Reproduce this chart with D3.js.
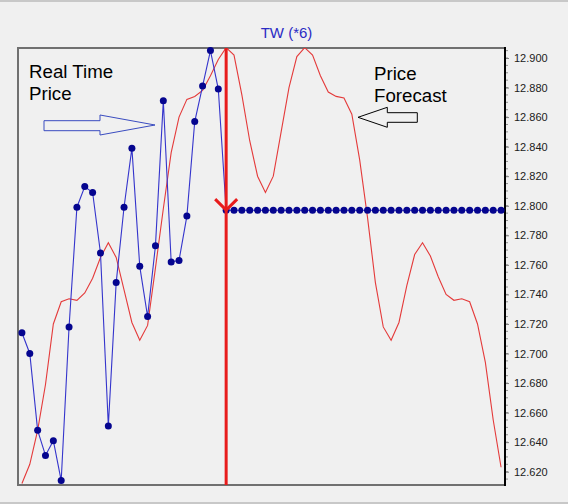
<!DOCTYPE html>
<html>
<head>
<meta charset="utf-8">
<script src="https://cdn.jsdelivr.net/npm/d3@7"></script>
<style>
	html, body { margin: 0; padding: 0; background: #f0f0f0; }
	svg { display: block; font-family: Arial, "Liberation Sans", sans-serif; }
</style>
</head>
<body>
<div id="chart"></div>
<script>
// real time price (blue dots), up to the "now" bar
var realTime = [12.714, 12.700, 12.648, 12.631, 12.641, 12.614, 12.718, 12.799, 12.813, 12.809,
	12.768, 12.651, 12.748, 12.799, 12.839, 12.759, 12.725, 12.773, 12.871, 12.762,
	12.763, 12.793, 12.857, 12.881, 12.905, 12.879, 12.797];
// blue dots held flat after the bar
var heldPrice = [12.797, 12.797, 12.797, 12.797, 12.797, 12.797, 12.797, 12.797, 12.797, 12.797,
	12.797, 12.797, 12.797, 12.797, 12.797, 12.797, 12.797, 12.797, 12.797, 12.797,
	12.797, 12.797, 12.797, 12.797, 12.797, 12.797, 12.797, 12.797, 12.797, 12.797,
	12.797, 12.797, 12.797, 12.797, 12.797];
// red forecast curve
var forecast = [12.612, 12.625, 12.648, 12.679, 12.720, 12.735, 12.737, 12.736, 12.741, 12.751,
	12.765, 12.775, 12.765, 12.743, 12.721, 12.709, 12.719, 12.758, 12.798, 12.836,
	12.860, 12.872, 12.874, 12.878, 12.888, 12.899, 12.907, 12.902, 12.875, 12.844,
	12.820, 12.809, 12.820, 12.850, 12.880, 12.901, 12.907, 12.902, 12.888, 12.877,
	12.874, 12.873, 12.862, 12.831, 12.792, 12.748, 12.718, 12.709, 12.721, 12.746,
	12.767, 12.775, 12.766, 12.752, 12.740, 12.736, 12.737, 12.735, 12.720, 12.694,
	12.655, 12.623];
var yTicks = [12.62, 12.64, 12.66, 12.68, 12.70, 12.72, 12.74, 12.76, 12.78, 12.80,
	12.82, 12.84, 12.86, 12.88, 12.90];
var nowIndex = 26;
var title = "TW (*6)";

var W = 568, H = 504;
var pLeft = 18, pRight = 505, pTop = 48, pBottom = 485;

var svg = d3.select("#chart").append("svg")
	.attr("width", W)
	.attr("height", H);

svg.append("rect").attr("width", W).attr("height", H).attr("fill", "#f0f0f0");
svg.append("rect").attr("width", W).attr("height", 2).attr("fill", "#c8c8c8");
svg.append("rect").attr("y", H - 2).attr("width", W).attr("height", 2).attr("fill", "#c8c8c8");

var x = d3.scaleLinear().domain([-0.5, forecast.length - 0.5]).range([pLeft, pRight]);
var y = d3.scaleLinear().domain([12.62, 12.90]).range([471.7, 58]);

var blue = realTime.concat(heldPrice);

svg.append("defs").append("clipPath").attr("id", "plot")
	.append("rect")
	.attr("x", pLeft).attr("y", pTop)
	.attr("width", pRight - pLeft).attr("height", pBottom - pTop);

// frame
svg.append("path")
	.attr("d", "M" + pRight + "," + pTop + "H" + pLeft + "V" + pBottom + "H" + pRight)
	.attr("fill", "none")
	.attr("stroke", "#707070")
	.attr("stroke-width", 2);

// right axis
var minor = d3.range(12.615, 12.9065, 0.005);
svg.append("g").selectAll("line").data(minor).enter().append("line")
	.attr("x1", pRight).attr("x2", pRight + 3)
	.attr("y1", function (d) { return y(d); })
	.attr("y2", function (d) { return y(d); })
	.attr("stroke", "#909090");

var axis = d3.axisRight(y).tickValues(yTicks).tickSize(4).tickPadding(5)
	.tickFormat(d3.format(".3f"));
var ax = svg.append("g").attr("transform", "translate(" + pRight + ",0)").call(axis);
ax.select(".domain").remove();
ax.selectAll(".tick line").attr("stroke", "#808080");
ax.selectAll(".tick text")
	.attr("fill", "#202020")
	.style("font-size", "11px");
svg.append("line")
	.attr("x1", pRight).attr("x2", pRight)
	.attr("y1", pTop - 1).attr("y2", pBottom + 1)
	.attr("stroke", "#000")
	.attr("stroke-width", 2);

// title
svg.append("text")
	.attr("x", 286.5).attr("y", 38)
	.attr("text-anchor", "middle")
	.attr("fill", "#2b2bc4")
	.style("font-size", "15px")
	.text(title);

var g = svg.append("g").attr("clip-path", "url(#plot)");

var line = d3.line()
	.x(function (d, i) { return x(i); })
	.y(function (d) { return y(d); });

g.append("path")
	.datum(forecast)
	.attr("d", line)
	.attr("fill", "none")
	.attr("stroke", "#e43a3a")
	.attr("stroke-width", 1.1);

svg.append("path")
	.datum(blue)
	.attr("d", line)
	.attr("fill", "none")
	.attr("stroke", "#3434cc")
	.attr("stroke-width", 1.1);

svg.append("g").selectAll("circle").data(blue).enter().append("circle")
	.attr("cx", function (d, i) { return x(i); })
	.attr("cy", function (d) { return y(d); })
	.attr("r", 3.5)
	.attr("fill", "#05058f");

// "now" bar with arrow head
var nx = x(nowIndex), ny = y(realTime[nowIndex]);
svg.append("line")
	.attr("x1", nx).attr("x2", nx)
	.attr("y1", pTop).attr("y2", pBottom)
	.attr("stroke", "#e81c1c")
	.attr("stroke-width", 3);
svg.append("path")
	.attr("d", "M" + (nx - 11) + "," + (ny - 11) + "L" + nx + "," + ny + "L" + (nx + 11) + "," + (ny - 11))
	.attr("fill", "none")
	.attr("stroke", "#e81c1c")
	.attr("stroke-width", 3);

// labels
var lbl = svg.append("g").style("font-size", "18.7px").attr("fill", "#000");
lbl.append("text").attr("x", 29).attr("y", 78).text("Real Time");
lbl.append("text").attr("x", 29).attr("y", 100).text("Price");
lbl.append("text").attr("x", 374).attr("y", 80).text("Price");
lbl.append("text").attr("x", 374).attr("y", 102).text("Forecast");

// hollow arrows
svg.append("polygon")
	.attr("points", "44,120.7 100,120.7 100,115 155,125 100,135 100,130.7 44,130.7")
	.attr("fill", "none")
	.attr("stroke", "#3a4cc0")
	.attr("stroke-width", 1);
svg.append("polygon")
	.attr("points", "417.3,112.7 387.3,112.7 387.3,107.3 358,117.3 387.3,127.3 387.3,122.3 417.3,122.3")
	.attr("fill", "none")
	.attr("stroke", "#000")
	.attr("stroke-width", 1);
</script>
</body>
</html>
